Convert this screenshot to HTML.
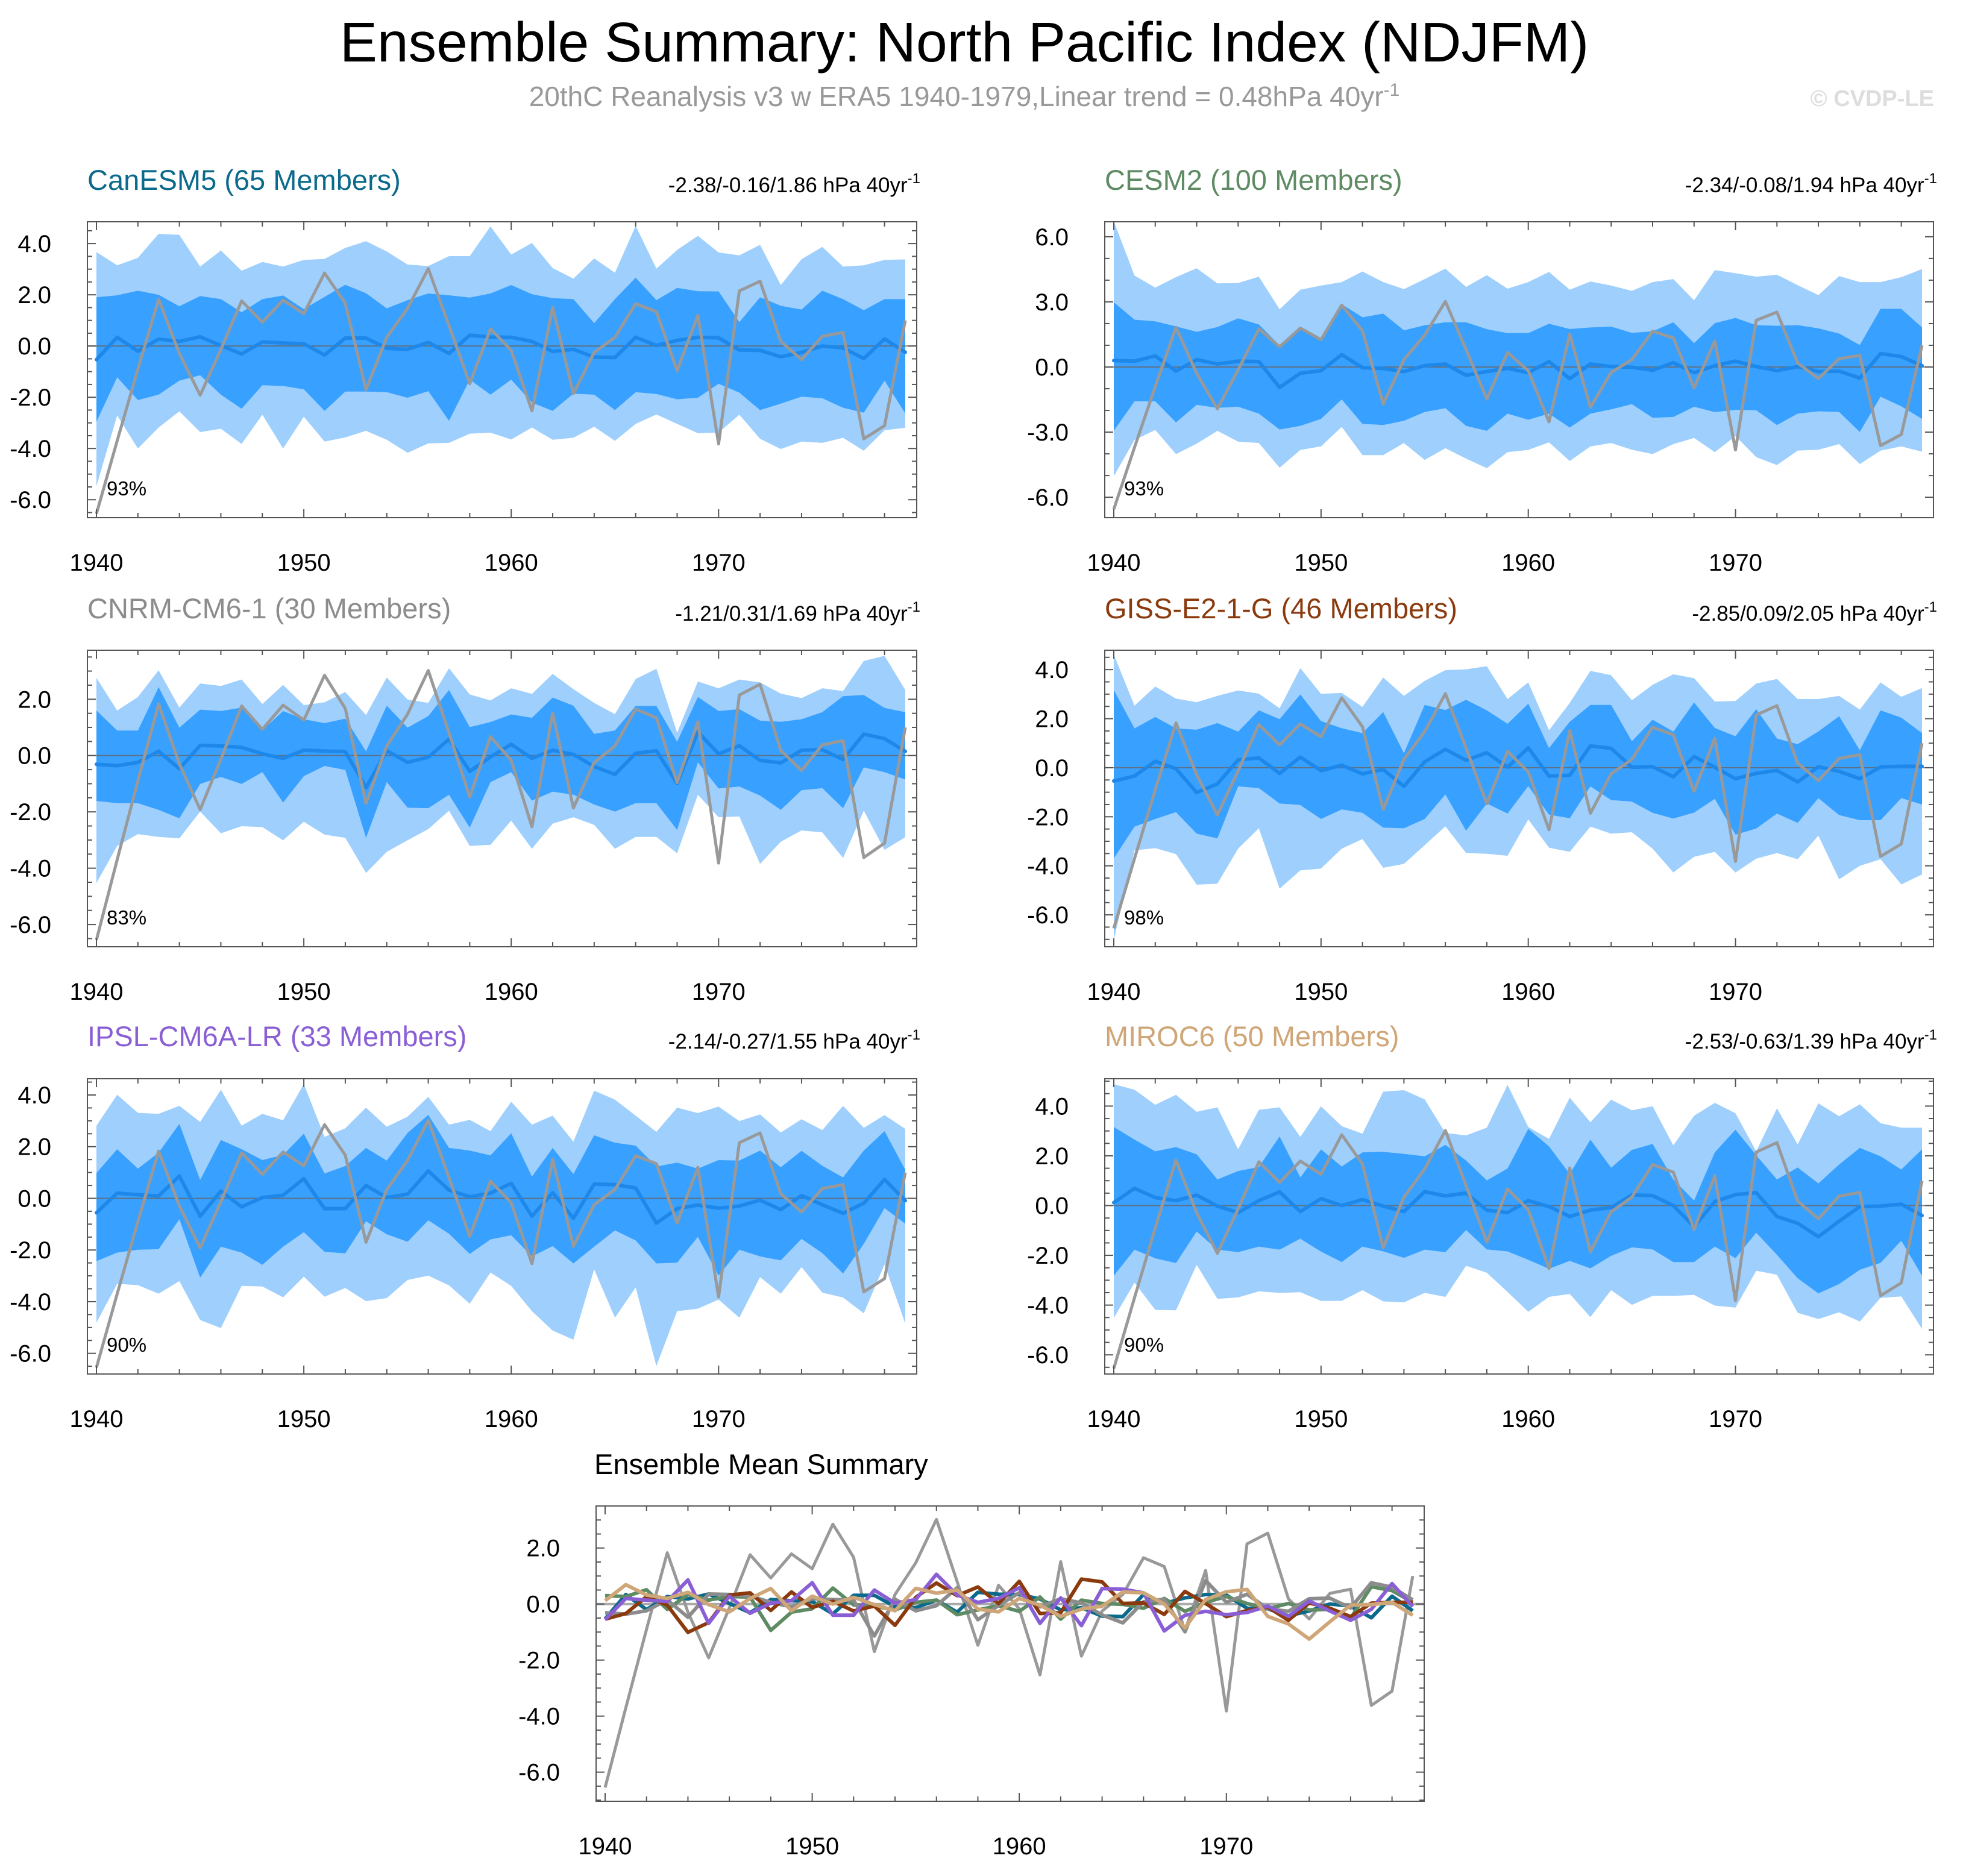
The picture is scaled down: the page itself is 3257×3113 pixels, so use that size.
<!DOCTYPE html>
<html><head><meta charset="utf-8"><title>Ensemble Summary: North Pacific Index (NDJFM)</title>
<style>
html,body{margin:0;padding:0;background:#fff;}
svg{display:block;font-family:"Liberation Sans",Arial,sans-serif;}
</style></head>
<body>
<svg id="chart" xmlns="http://www.w3.org/2000/svg" width="3257" height="3113" viewBox="0 0 3257 3113">
<rect x="0" y="0" width="3257" height="3113" fill="#fff"/>
<text x="1600" y="102" font-size="93" text-anchor="middle" fill="#000">Ensemble Summary: North Pacific Index (NDJFM)</text>
<text x="1600" y="176" font-size="46" text-anchor="middle" fill="#999">20thC Reanalysis v3 w ERA5 1940-1979,Linear trend = 0.48hPa 40yr<tspan dy="-17" font-size="30">-1</tspan></text>
<text x="3209" y="176" font-size="38" font-weight="bold" text-anchor="end" fill="#ddd">© CVDP-LE</text>
<g id="panels"></g>
</svg>
<script>
const years = [];
for (let y = 1940; y <= 1979; y++) years.push(y);
const xTickYears = [1940, 1950, 1960, 1970];

const obs = [-6.55,-3.7,-0.9,1.83,-0.29,-1.92,-0.13,1.76,0.93,1.79,1.26,2.85,1.67,-1.70,0.34,1.47,3.02,0.8,-1.47,0.67,-0.17,-2.53,1.51,-1.86,-0.25,0.34,1.65,1.34,-0.96,1.2,-3.82,2.15,2.53,0.18,-0.53,0.38,0.53,-3.62,-3.11,1.0];

const canMean = [-0.53,0.34,-0.2,0.27,0.18,0.36,0.02,-0.31,0.16,0.12,0.09,-0.35,0.31,0.31,-0.09,-0.13,0.14,-0.29,0.42,0.35,0.34,0.18,-0.21,-0.13,-0.43,-0.45,0.34,0.02,0.22,0.34,0.32,-0.15,-0.17,-0.42,-0.25,0,-0.07,-0.49,0.28,-0.24];
const canDarkHi = [1.9,1.98,2.16,2.0,1.55,1.95,1.83,1.32,1.83,1.97,1.44,1.92,2.39,2.06,1.47,1.79,2.05,1.98,1.89,2.05,2.38,2.02,1.87,1.83,0.89,1.83,2.67,1.79,2.27,2.14,2.13,0.93,1.9,1.57,1.42,2.16,1.83,1.4,1.83,1.83];
const canDarkLo = [-2.96,-1.22,-2.11,-1.9,-1.35,-1.14,-1.9,-2.45,-1.53,-1.56,-1.69,-2.53,-1.78,-1.78,-1.8,-2.02,-1.76,-2.92,-1.31,-1.9,-1.31,-2.21,-2.53,-1.86,-1.9,-2.5,-1.8,-1.87,-2.08,-2.02,-1.47,-1.82,-2.5,-2.25,-1.98,-2.04,-2.41,-2.6,-1.35,-2.63];
const canLightHi = [3.67,3.15,3.44,4.38,4.34,3.1,3.73,2.94,3.28,3.1,3.36,3.4,3.83,4.09,3.69,3.18,3.12,3.51,3.51,4.67,3.57,4.02,3.04,2.63,3.42,2.86,4.69,3.02,3.75,4.3,3.65,3.54,3.95,2.38,3.39,3.87,3.1,3.15,3.36,3.38];
const canLightLo = [-5.47,-2.71,-4.0,-3.18,-2.55,-3.36,-3.23,-3.82,-2.68,-4.0,-2.76,-3.73,-3.57,-3.31,-3.66,-4.17,-3.8,-3.78,-3.42,-3.38,-3.65,-3.18,-3.66,-3.58,-3.15,-3.7,-3.04,-2.67,-3.04,-3.4,-3.38,-2.68,-3.62,-4.02,-3.73,-3.78,-3.58,-4.09,-3.29,-3.19];

const cesmMean = [0.30,0.27,0.51,-0.19,0.34,0.14,0.27,0.25,-0.94,-0.29,-0.17,0.57,-0.03,-0.07,-0.21,0.06,0.14,-0.38,-0.21,-0.06,-0.26,0.25,-0.54,0.14,0.02,-0.01,-0.15,0.20,-0.26,0.06,0.27,0.02,-0.17,0.02,-0.21,-0.19,-0.51,0.62,0.48,0.06];
const cesmDarkHi = [2.98,2.18,2.10,1.87,1.62,1.84,2.24,1.96,0.99,1.82,1.27,2.89,2.29,2.46,1.69,1.92,2.06,2.06,1.74,1.56,1.56,1.99,1.75,1.82,1.86,1.57,1.64,2.06,1.10,2.02,2.26,1.93,1.90,1.93,1.78,1.54,1.01,2.68,2.68,1.82];
const cesmDarkLo = [-2.94,-1.58,-1.58,-2.55,-1.74,-1.88,-1.83,-2.15,-2.88,-2.71,-2.39,-1.49,-2.62,-2.67,-2.48,-2.07,-1.90,-2.71,-2.94,-2.15,-2.43,-2.15,-2.79,-2.15,-1.95,-1.71,-2.34,-2.30,-1.83,-2.08,-1.97,-1.99,-2.67,-2.15,-2.04,-2.07,-2.99,-1.37,-1.81,-2.39];
const cesmLightHi = [6.71,4.21,3.66,4.14,4.55,3.85,3.87,4.16,2.66,3.56,3.75,3.91,4.40,3.91,3.59,4.05,4.53,3.69,4.23,3.61,3.91,4.38,3.56,3.94,3.75,3.51,3.91,4.05,3.07,4.46,4.32,4.16,4.25,3.77,3.31,4.19,3.91,3.91,4.14,4.51];
const cesmLightLo = [-5.03,-3.36,-2.90,-4.01,-3.53,-2.94,-3.44,-3.50,-4.64,-3.82,-3.66,-2.76,-4.06,-4.06,-3.50,-4.28,-3.74,-4.22,-4.66,-3.92,-3.82,-3.47,-4.33,-3.66,-3.50,-3.81,-4.01,-3.55,-3.27,-3.92,-3.18,-4.15,-4.52,-3.85,-3.81,-3.55,-4.47,-3.85,-3.66,-3.90];

const cnrmMean = [-0.31,-0.36,-0.24,0.15,-0.47,0.36,0.34,0.29,0.06,-0.10,0.19,0.16,0.14,-1.14,0.17,-0.24,-0.06,0.58,-0.56,-0.05,0.40,-0.10,0.19,0.04,-0.39,-0.67,0.08,0.17,-0.99,0.84,0.06,0.35,-0.17,-0.26,0.19,0.21,-0.14,0.76,0.60,0.15];
const cnrmDarkHi = [1.60,0.89,0.89,2.43,0.99,1.63,1.58,1.70,0.90,1.58,1.29,1.15,1.31,0.15,1.77,0.99,1.40,2.33,1.01,1.19,1.46,1.34,2.06,1.77,0.77,0.89,1.76,1.76,0.49,2.08,1.58,1.65,1.24,1.20,1.29,1.54,2.11,2.15,1.69,1.54];
const cnrmDarkLo = [-1.61,-1.69,-1.69,-1.93,-2.23,-1.01,-0.76,-1.01,-0.59,-1.67,-0.73,-0.37,-0.51,-2.92,-0.94,-1.85,-1.87,-1.39,-2.56,-0.94,-0.59,-1.60,-1.28,-1.39,-1.74,-1.99,-1.69,-1.69,-2.64,-0.24,-1.17,-1.10,-1.42,-1.93,-1.23,-1.16,-1.87,-0.42,-0.59,-0.85];
const cnrmLightHi = [2.76,1.60,2.08,3.03,1.70,2.56,2.47,2.70,1.83,2.51,1.79,1.89,2.26,1.44,2.77,1.99,1.87,3.10,2.17,1.96,2.39,2.19,2.90,2.36,1.87,1.47,2.72,3.08,0.81,2.63,2.39,2.70,2.60,2.20,2.04,2.39,2.29,3.36,3.54,2.33];
const cnrmLightLo = [-4.53,-3.21,-2.79,-2.89,-2.94,-1.99,-2.76,-2.51,-2.54,-3.01,-2.35,-2.81,-2.92,-4.17,-3.42,-3.01,-2.61,-1.96,-3.21,-3.17,-2.31,-3.31,-2.42,-2.19,-2.46,-3.31,-2.89,-2.89,-3.47,-1.39,-2.19,-2.16,-3.85,-3.06,-2.66,-2.73,-3.64,-1.96,-3.35,-2.90];

const gissMean = [-0.54,-0.34,0.26,-0.04,-1.01,-0.66,0.32,0.40,-0.23,0.43,-0.12,0.10,-0.25,-0.07,-0.76,0.24,0.75,0.30,0.61,0.02,0.81,-0.34,-0.31,0.89,0.79,0.02,0.04,-0.37,0.45,0.02,-0.45,-0.23,-0.11,-0.58,0.04,-0.15,-0.45,0.03,0.06,0.06];
const gissDarkHi = [3.17,1.60,2.07,1.60,1.55,1.82,1.47,2.34,1.98,2.99,1.90,1.61,1.41,2.27,0.59,2.56,2.35,2.77,2.34,1.79,2.61,0.80,1.87,2.56,2.56,1.08,1.96,1.47,2.66,1.62,1.28,2.39,1.19,0.96,1.48,2.10,0.71,2.34,2.04,1.41];
const gissDarkLo = [-3.70,-2.40,-2.09,-1.81,-2.69,-2.88,-0.76,-0.83,-1.46,-1.52,-2.09,-1.70,-1.84,-2.44,-2.47,-2.09,-1.09,-2.57,-1.46,-1.87,-0.75,-1.91,-2.06,-0.76,-1.32,-1.38,-1.84,-2.07,-1.83,-1.27,-2.73,-2.48,-1.87,-2.25,-1.24,-1.93,-2.14,-2.14,-1.24,-1.50];
const gissLightHi = [4.61,2.53,3.31,2.82,2.67,2.93,3.15,3.02,2.42,4.06,3.01,3.05,2.48,3.68,2.93,3.54,3.98,4.01,4.14,2.80,3.48,1.53,2.64,3.95,3.77,2.75,3.38,3.81,3.65,2.70,2.72,3.43,3.62,2.80,2.80,2.93,2.37,3.48,2.89,3.25];
const gissLightLo = [-7.03,-3.37,-3.28,-3.52,-4.77,-4.73,-3.30,-2.47,-4.93,-4.19,-4.11,-3.30,-2.91,-4.08,-3.92,-3.16,-2.39,-3.48,-3.51,-3.59,-2.11,-3.26,-3.43,-2.40,-2.69,-2.63,-3.30,-4.27,-3.63,-3.43,-4.27,-3.71,-3.48,-3.73,-2.77,-4.55,-4.00,-3.73,-4.76,-4.35];

const ipslMean = [-0.56,0.20,0.14,0.09,0.86,-0.69,0.28,-0.33,0.03,0.12,0.76,-0.40,-0.40,0.50,0.03,0.16,1.06,0.32,0.06,0.20,0.58,-0.69,0.22,-0.77,0.55,0.53,0.40,-0.96,-0.40,-0.26,-0.38,-0.30,-0.07,-0.44,0.11,-0.25,-0.58,-0.19,0.73,-0.09];
const ipslDarkHi = [0.98,1.90,1.15,1.77,2.88,0.71,2.26,1.90,1.48,1.68,2.50,0.96,1.25,1.95,1.46,2.53,3.23,1.95,1.85,1.66,2.52,0.84,1.95,0.94,2.44,2.15,2.04,1.23,1.38,1.15,1.48,1.46,1.85,1.20,1.84,1.26,0.81,1.85,2.60,1.10];
const ipslDarkLo = [-2.43,-2.10,-1.99,-1.97,-0.81,-3.07,-1.87,-2.10,-2.57,-1.87,-1.31,-2.07,-2.13,-0.89,-1.39,-1.68,-0.85,-1.37,-2.15,-1.59,-1.43,-2.25,-1.85,-2.52,-1.87,-1.24,-1.63,-2.52,-2.49,-1.49,-2.99,-1.99,-2.25,-2.40,-1.57,-2.12,-2.91,-1.76,-0.38,-0.98];
const ipslLightHi = [2.81,4.01,3.31,3.27,3.58,2.96,4.20,2.81,3.27,3.02,4.42,2.38,2.71,3.51,2.77,3.16,3.93,2.85,3.04,2.60,3.74,2.85,3.20,2.19,4.17,3.82,3.20,2.57,3.51,3.30,3.55,2.99,3.25,2.55,3.06,2.64,3.58,2.73,3.22,2.69];
const ipslLightLo = [-4.81,-3.31,-3.36,-3.69,-3.20,-4.71,-5.02,-3.39,-3.41,-3.83,-3.03,-3.81,-3.47,-3.98,-3.86,-3.16,-2.99,-3.37,-4.08,-2.87,-3.39,-4.37,-5.12,-5.47,-2.75,-4.62,-3.45,-6.49,-4.37,-4.27,-3.92,-4.62,-3.05,-3.69,-2.66,-3.65,-3.84,-4.45,-2.56,-4.85];

const mirocMean = [0.12,0.69,0.32,0.20,0.42,-0.02,-0.28,0.20,0.55,-0.24,0.28,0,0.24,-0.02,-0.24,0.56,0.39,0.50,-0.18,-0.28,0.20,-0.04,-0.44,-0.18,-0.08,0.43,0.40,0,-0.85,0.16,0.44,0.52,-0.44,-0.71,-1.25,-0.63,-0.04,-0.02,0.06,-0.40];
const mirocDarkHi = [3.16,2.65,2.18,2.35,2.06,1.05,1.39,1.55,2.78,1.13,2.26,1.57,2.14,2.16,2.08,1.98,2.44,1.81,1.01,1.49,3.08,2.38,1.27,2.65,1.52,2.24,2.48,1.05,0.20,2.14,3.05,2.02,1.05,1.53,0.89,1.65,2.32,1.98,1.45,2.26];
const mirocDarkLo = [-2.82,-1.77,-2.12,-2.31,-1.04,-1.77,-1.87,-1.65,-1.77,-1.33,-1.85,-2.27,-1.65,-1.84,-2.10,-1.77,-1.87,-0.98,-1.76,-1.84,-2.18,-2.54,-2.22,-2.52,-2.02,-1.68,-1.76,-2.27,-2.27,-1.65,-2.11,-1.09,-1.98,-2.92,-3.53,-3.15,-2.58,-2.30,-1.41,-2.82];
const mirocLightHi = [4.88,4.66,4.05,4.45,3.77,3.95,2.26,3.85,3.95,2.76,3.99,3.19,2.89,4.58,4.64,4.27,2.92,2.82,3.13,4.85,3.16,2.68,4.34,3.35,4.26,3.83,3.99,2.42,3.61,4.13,3.71,2.18,3.91,2.46,4.11,3.59,4.07,3.31,3.13,3.13];
const mirocLightLo = [-4.52,-3.10,-4.19,-4.21,-2.38,-3.75,-3.69,-3.45,-3.51,-3.48,-3.83,-3.83,-3.40,-3.85,-3.89,-3.51,-3.67,-2.42,-2.70,-3.47,-4.27,-3.67,-3.55,-4.48,-3.40,-3.99,-3.63,-3.63,-3.59,-4.02,-4.10,-2.62,-2.78,-4.31,-4.56,-4.29,-4.66,-3.71,-3.65,-4.96];

const ticks2 = [4.0, 2.0, 0.0, -2.0, -4.0, -6.0];
const ticks3 = [6.0, 3.0, 0.0, -3.0, -6.0];
const ticksBottom = [2.0, 0.0, -2.0, -4.0, -6.0];

const NS = 'http://www.w3.org/2000/svg';
const root = document.getElementById('panels');
function mk(tag, attrs, parent) {
  const e = document.createElementNS(NS, tag);
  for (const k in attrs) e.setAttribute(k, attrs[k]);
  (parent || root).appendChild(e);
  return e;
}

const panels = [
  {id:'canesm5', title:'CanESM5 (65 Members)', color:'#0b6a8c', stats:'-2.38/-0.16/1.86 hPa 40yr', pct:'93%', L:145, T:368, R:1521, B:859, ymin:-6.7, ymax:4.85, ticks:ticks2, minor:0.5, mean:canMean, dh:canDarkHi, dl:canDarkLo, lh:canLightHi, ll:canLightLo, tY:299},
  {id:'cesm2', title:'CESM2 (100 Members)', color:'#5e8b63', stats:'-2.34/-0.08/1.94 hPa 40yr', pct:'93%', L:1833, T:368, R:3208, B:859, ymin:-6.94, ymax:6.69, ticks:ticks3, minor:1, mean:cesmMean, dh:cesmDarkHi, dl:cesmDarkLo, lh:cesmLightHi, ll:cesmLightLo, tY:299},
  {id:'cnrm-cm6-1', title:'CNRM-CM6-1 (30 Members)', color:'#8c8c8c', stats:'-1.21/0.31/1.69 hPa 40yr', pct:'83%', L:145, T:1079, R:1521, B:1571, ymin:-6.79, ymax:3.74, ticks:ticks2, minor:0.5, mean:cnrmMean, dh:cnrmDarkHi, dl:cnrmDarkLo, lh:cnrmLightHi, ll:cnrmLightLo, tY:1010},
  {id:'giss-e2-1-g', title:'GISS-E2-1-G (46 Members)', color:'#8b3a0e', stats:'-2.85/0.09/2.05 hPa 40yr', pct:'98%', L:1833, T:1079, R:3208, B:1571, ymin:-7.3, ymax:4.79, ticks:ticks2, minor:0.5, mean:gissMean, dh:gissDarkHi, dl:gissDarkLo, lh:gissLightHi, ll:gissLightLo, tY:1010},
  {id:'ipsl-cm6a-lr', title:'IPSL-CM6A-LR (33 Members)', color:'#8a5fd6', stats:'-2.14/-0.27/1.55 hPa 40yr', pct:'90%', L:145, T:1790, R:1521, B:2280, ymin:-6.8, ymax:4.63, ticks:ticks2, minor:0.5, mean:ipslMean, dh:ipslDarkHi, dl:ipslDarkLo, lh:ipslLightHi, ll:ipslLightLo, tY:1720},
  {id:'miroc6', title:'MIROC6 (50 Members)', color:'#cfa677', stats:'-2.53/-0.63/1.39 hPa 40yr', pct:'90%', L:1833, T:1790, R:3208, B:2280, ymin:-6.77, ymax:5.10, ticks:ticks2, minor:0.5, mean:mirocMean, dh:mirocDarkHi, dl:mirocDarkLo, lh:mirocLightHi, ll:mirocLightLo, tY:1720}
];

function axes(p) {
  const x0 = p.L + 15, x1 = p.R - 19;
  const xs = yr => x0 + (yr - 1940) * (x1 - x0) / 39;
  const ys = v => p.B - (v - p.ymin) * (p.B - p.T) / (p.ymax - p.ymin);
  return {xs, ys};
}

function drawFrame(p, g, xs, ys) {
  const box = mk('rect', {x:p.L, y:p.T, width:p.R-p.L, height:p.B-p.T, fill:'none', stroke:'#555', 'stroke-width':2}, g);
  
  
  for (let yr = 1940; yr <= 1979; yr += 2) {
    const major = (yr % 10 === 0);
    const len = major ? 14 : 8;
    const x = xs(yr);
    const t1 = mk('line', {x1:x, x2:x, y1:p.B, y2:p.B-len, stroke:'#555', 'stroke-width':2}, g);
    
    
    const t2 = mk('line', {x1:x, x2:x, y1:p.T, y2:p.T+len, stroke:'#555', 'stroke-width':2}, g);
    
    
  }
  xTickYears.forEach(yr => {
    const t = mk('text', {x:xs(yr), y:p.B+88, 'font-size':40, 'text-anchor':'middle', fill:'#000'}, g);
    t.textContent = String(yr);
    
    
  });
  const lo = Math.ceil(p.ymin / p.minor) * p.minor;
  for (let v = lo; v <= p.ymax + 1e-9; v += p.minor) {
    const y = ys(v);
    const isMajor = p.ticks.some(t => Math.abs(t - v) < 1e-6);
    const len = isMajor ? 14 : 8;
    const a = mk('line', {x1:p.L, x2:p.L+len, y1:y, y2:y, stroke:'#555', 'stroke-width':2}, g);
    
    
    const b = mk('line', {x1:p.R, x2:p.R-len, y1:y, y2:y, stroke:'#555', 'stroke-width':2}, g);
    
    
  }
  p.ticks.filter(v => v >= p.ymin && v <= p.ymax).forEach(v => {
    const t = mk('text', {x:p.L-60, y:ys(v)+14, 'font-size':40, 'text-anchor':'end', fill:'#000'}, g);
    t.textContent = v.toFixed(1);
    
    
  });
}

function linePath(arr, xs, ys) {
  return arr.map((v, i) => (i ? 'L' : 'M') + xs(years[i]).toFixed(1) + ',' + ys(v).toFixed(1)).join(' ');
}
function bandPath(hi, lo, xs, ys) {
  let d = hi.map((v, i) => (i ? 'L' : 'M') + xs(years[i]).toFixed(1) + ',' + ys(v).toFixed(1)).join(' ');
  for (let i = lo.length - 1; i >= 0; i--) d += ' L' + xs(years[i]).toFixed(1) + ',' + ys(lo[i]).toFixed(1);
  return d + ' Z';
}

panels.forEach(p => {
  const g = mk('g', {});
  
  
  const {xs, ys} = axes(p);
  const light = mk('path', {d:bandPath(p.lh, p.ll, xs, ys), fill:'#9ecffd'}, g);
  
  
  const dark = mk('path', {d:bandPath(p.dh, p.dl, xs, ys), fill:'#38a0fe'}, g);
  
  
  const zl = mk('line', {x1:p.L, x2:p.R, y1:ys(0), y2:ys(0), stroke:'#666', 'stroke-width':2, 'stroke-opacity':0.8}, g);
  
  
  const ml = mk('path', {d:linePath(p.mean, xs, ys), fill:'none', stroke:'#1e88ea', 'stroke-width':6, 'stroke-linejoin':'round', 'stroke-linecap':'round'}, g);
  
  
  const ol = mk('path', {d:linePath(obs, xs, ys), fill:'none', stroke:'#999', 'stroke-width':5, 'stroke-linejoin':'round'}, g);
  
  
  drawFrame(p, g, xs, ys);
  const tt = mk('text', {x:p.L, y:p.tY+16, 'font-size':47, fill:p.color}, g);
  tt.textContent = p.title;
  
  
  const st = mk('text', {x:p.R+6, y:p.tY+20, 'font-size':35, 'text-anchor':'end', fill:'#000'}, g);
  st.textContent = p.stats;
  const sup = mk('tspan', {dy:-15, 'font-size':24}, st);
  sup.textContent = '-1';
  
  
  const pc = mk('text', {x:p.L+32, y:p.B-37, 'font-size':33, fill:'#000'}, g);
  pc.textContent = p.pct;
  
  
});

const bp = {L:989, T:2499, R:2363, B:2989, ymin:-7.04, ymax:3.5, ticks:ticksBottom, minor:0.5};
const bg = mk('g', {});


const bax = axes(bp);
const bzl = mk('line', {x1:bp.L, x2:bp.R, y1:bax.ys(0), y2:bax.ys(0), stroke:'#aaa', 'stroke-width':4}, bg);


const bol = mk('path', {d:linePath(obs, bax.xs, bax.ys), fill:'none', stroke:'#999', 'stroke-width':5, 'stroke-linejoin':'round'}, bg);


panels.forEach(p => {
  const l = mk('path', {d:linePath(p.mean, bax.xs, bax.ys), fill:'none', stroke:p.color, 'stroke-width':6, 'stroke-linejoin':'round'}, bg);
  
  
});
drawFrame(bp, bg, bax.xs, bax.ys);
const btt = mk('text', {x:986, y:2446, 'font-size':47, fill:'#000'}, bg);
btt.textContent = 'Ensemble Mean Summary';


</script>
</body></html>
